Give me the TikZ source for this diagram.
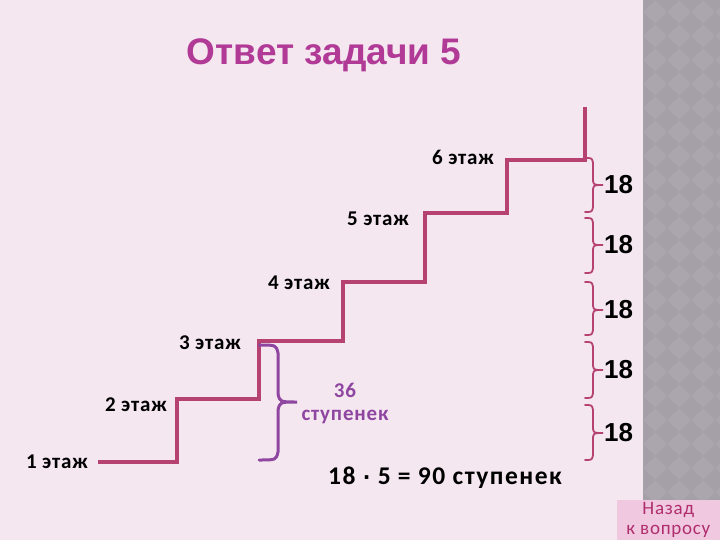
\documentclass[tikz,border=0pt]{standalone}
\usepackage{fontspec}
\setmainfont{Carlito}
\newfontfamily\titlefont{Liberation Sans}
\newfontfamily\numfont{Liberation Sans}
\newfontfamily\lblfont[LetterSpace=4]{Carlito}
\newfontfamily\frmfont[LetterSpace=6]{Carlito}
\newfontfamily\dotfont{DejaVu Sans}
\definecolor{bgpink}{RGB}{245,231,240}
\definecolor{stair}{RGB}{181,66,112}
\definecolor{ttl}{RGB}{176,58,150}
\definecolor{brpurple}{RGB}{142,70,160}
\definecolor{stripA}{RGB}{171,166,173}
\definecolor{stripB}{RGB}{165,160,167}
\definecolor{btnfill}{RGB}{240,201,224}
\definecolor{btntext}{RGB}{176,45,110}
\tikzset{
  stairline/.style={draw=stair, line width=3.2pt, line join=miter},
  smallbrace/.style={draw=stair, line width=1.8pt, line cap=round},
  bigbrace/.style={draw=brpurple, line width=3pt, line cap=round},
  floorlbl/.style={font=\lblfont\bfseries\fontsize{21}{23}\selectfont, text=black, inner sep=0pt},
  numlbl/.style={font=\numfont\bfseries\fontsize{26}{28}\selectfont, text=black, inner sep=0pt},
}
\begin{document}
\begin{tikzpicture}[x=1pt,y=-1pt]
\useasboundingbox (0,0) rectangle (720,540);
\fill[bgpink] (0,0) rectangle (720,540);
% right strip
\fill[stripA] (643,0) rectangle (720,540);
\begin{scope}
\clip (643,0) rectangle (720,540);
\foreach \i in {0,...,4}{
  \foreach \j in {0,...,23}{
    \fill[stripB] ({643+24*\i},{24*\j-12}) -- ++(12,12) -- ++(-12,12) -- ++(-12,-12) -- cycle;
  }
}
\end{scope}
% button
\node[fill=btnfill, minimum width=103pt, minimum height=40pt, inner sep=0pt, anchor=south east,
      align=center, text=btntext, font=\lblfont\fontsize{19}{20}\selectfont] (back) at (720,540) {Назад\\к вопросу};
% title
\node[text=ttl, font=\titlefont\bfseries\fontsize{37}{40}\selectfont, inner sep=0pt] (title) at (324,55) {Ответ задачи 5};
% staircase
\coordinate (s0) at (98,462);
\coordinate (s1) at (177,462);
\coordinate (s2) at (177,399);
\coordinate (s3) at (259,399);
\coordinate (s4) at (259,341);
\coordinate (s5) at (343,341);
\coordinate (s6) at (343,282);
\coordinate (s7) at (425,282);
\coordinate (s8) at (425,213);
\coordinate (s9) at (507,213);
\coordinate (s10) at (507,160);
\coordinate (s11) at (585,160);
\coordinate (s12) at (585,107);
\draw[stairline] (s0) -- (s1) -- (s2) -- (s3) -- (s4) -- (s5) -- (s6) -- (s7) -- (s8) -- (s9) -- (s10) -- (s11) -- (s12);
% floor labels
\node[floorlbl, anchor=east] (f1) at (88,462) {1 этаж};
\node[floorlbl, anchor=east] (f2) at (167,405) {2 этаж};
\node[floorlbl, anchor=east] (f3) at (241,343) {3 этаж};
\node[floorlbl, anchor=east] (f4) at (330,283) {4 этаж};
\node[floorlbl, anchor=east] (f5) at (409,219) {5 этаж};
\node[floorlbl, anchor=east] (f6) at (494,157) {6 этаж};
% small braces with 18
\foreach \t/\m/\b [count=\k] in {158/185/212, 218/245/273, 282/310/335, 342/370/398, 405/433/460}{
  \draw[smallbrace] (585,\t) .. controls (592,\t) .. (593,\t+5) -- (593,\m-4) .. controls (594,\m) .. (603,\m)
     .. controls (594,\m) .. (593,\m+4) -- (593,\b-5) .. controls (592,\b) .. (585,\b);
  \node[numlbl, anchor=west] (n\k) at (604,\m) {18};
}
% big purple brace
\draw[bigbrace] (259,345) .. controls (276,345) .. (278,353) -- (278,394) .. controls (280,402) .. (297,402)
   .. controls (280,402) .. (278,410) -- (278,452) .. controls (276,460) .. (259,460);
\node[text=brpurple, font=\lblfont\bfseries\fontsize{21}{23}\selectfont, align=center, inner sep=0pt] (st36) at (345,403) {36\\ступенек};
% formula
\node[font=\frmfont\bfseries\fontsize{25.5}{27}\selectfont, inner sep=0pt, anchor=west] (formula) at (328,478) {18 {\dotfont\bfseries\fontsize{20}{22}\selectfont ·} 5 = 90 ступенек};
\end{tikzpicture}
\end{document}
